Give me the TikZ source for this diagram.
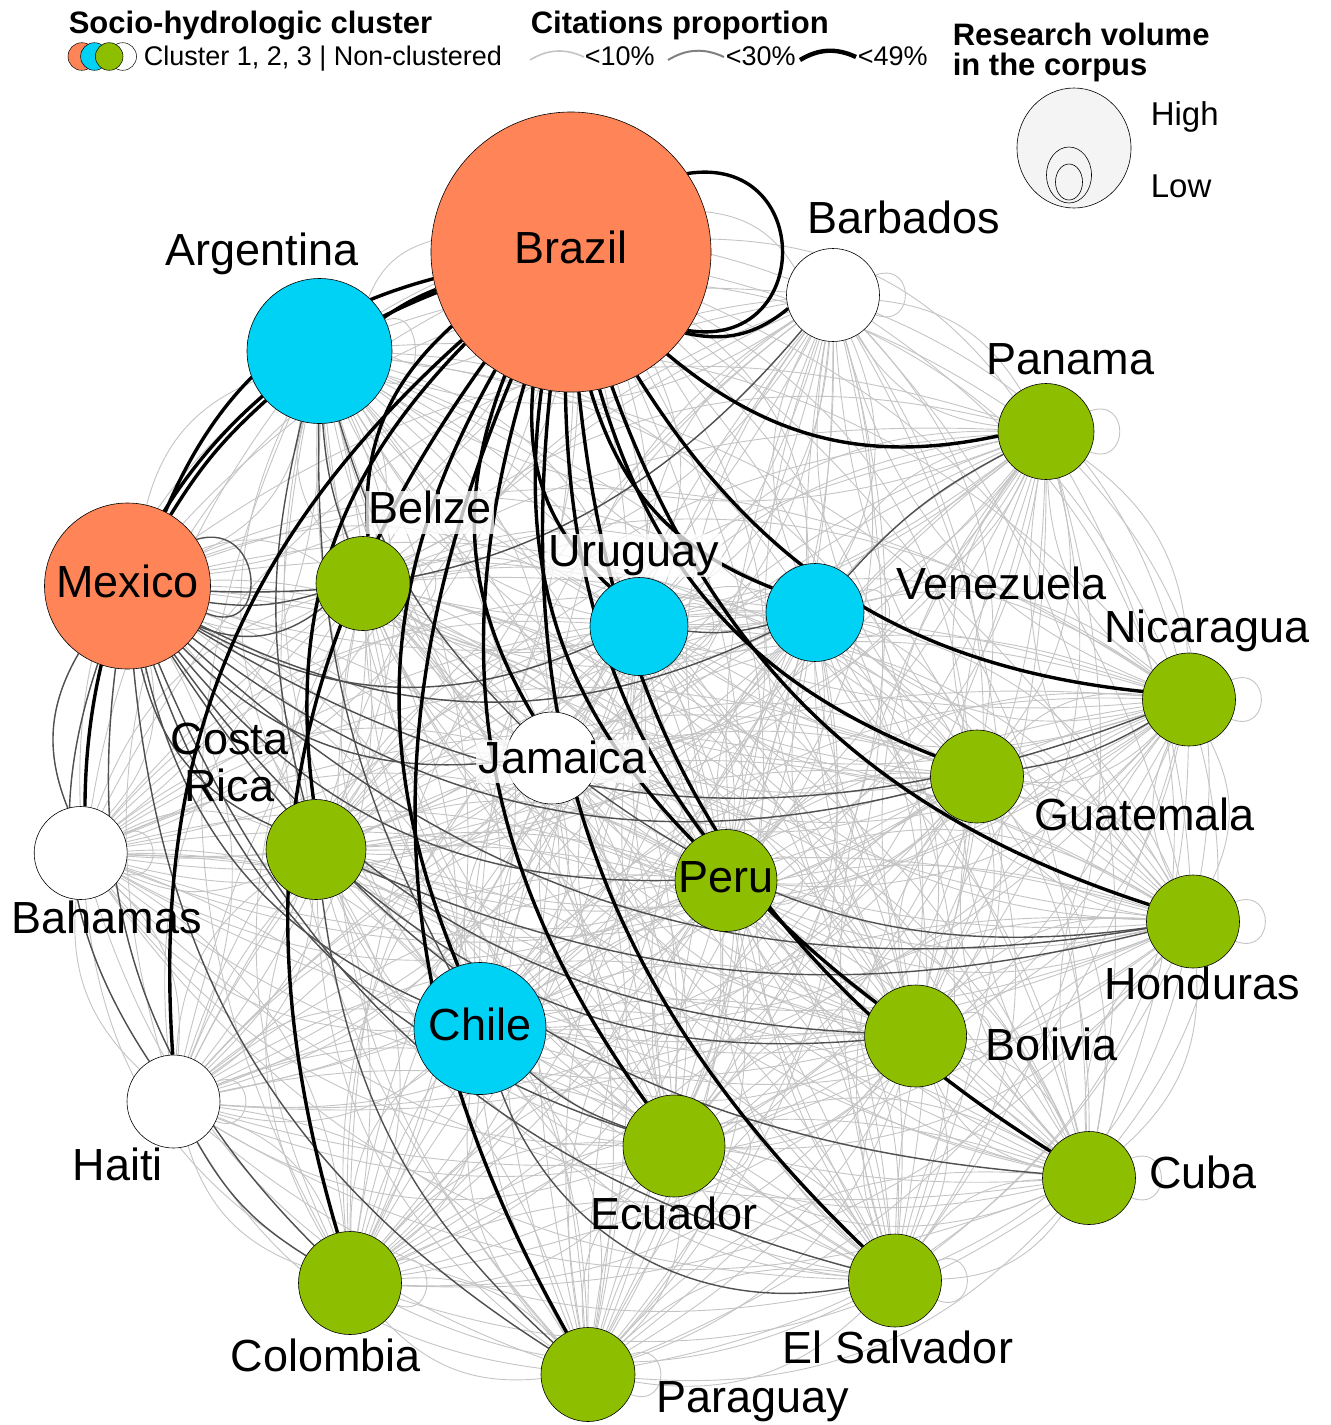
\documentclass[tikz,border=0pt]{standalone}
\usepackage{fontspec}
\setmainfont{Liberation Sans}
\usetikzlibrary{positioning}
\definecolor{grporange}{HTML}{FF8559}
\definecolor{grpblue}{HTML}{00D2F5}
\definecolor{grpgreen}{HTML}{8DBF00}
\definecolor{linklight}{HTML}{C4C4C4}
\definecolor{linkdark}{HTML}{505050}
\definecolor{keyfill}{HTML}{F4F4F4}
\pgfdeclarelayer{links}
\pgfsetlayers{links,main}
\newcommand{\allcountries}{bra,arg,mex,bar,pan,bel,uru,ven,nic,jam,gua,cos,bah,per,hon,chi,bol,hai,ecu,cub,col,els,par}
\tikzset{%
    country/.style = {circle, draw=black, line width=0.15pt, inner sep=0pt,
        minimum size=#1, font=\fontsize{11.25}{11.75}\selectfont,
        text height=7.25pt, text depth=1.5pt},
    grpone/.style = {fill=grporange},
    grptwo/.style = {fill=grpblue},
    grpthree/.style = {fill=grpgreen},
    grpnone/.style = {fill=white},
    cname/.style = {font=\fontsize{11.25}{11.75}\selectfont, inner sep=0pt,
        text height=8.25pt, text depth=2.5pt},
    cnamebg/.style = {cname, fill=white, fill opacity=0.75, text opacity=1,
        inner xsep=0.75pt},
    cnametwo/.style = {font=\fontsize{11.25}{11.75}\selectfont, inner sep=0pt,
        align=center},
    thinlink/.style = {draw=linklight, line width=0.225pt},
    midlink/.style = {draw=linkdark, line width=0.35pt},
    heavylink/.style = {draw=black, line width=0.85pt},
    keytitle/.style = {font=\bfseries\fontsize{7.75}{7.5}\selectfont, inner sep=0pt},
    keytext/.style = {font=\fontsize{6.75}{7.25}\selectfont, inner sep=0pt},
    keydot/.style = {circle, draw=black, line width=0.125pt, inner sep=0pt,
        minimum size=6.9pt},
    sizering/.style = {draw=black, line width=0.15pt, fill=keyfill},
}

\begin{document}
\begin{tikzpicture}[x=0.25pt, y=-0.25pt]
    \useasboundingbox (0,0) rectangle (1330,1425);
    % countries
    \node [country=70pt, grpone] (bra) at (571,252) {Brazil};
    \node [country=36.25pt, grptwo] (arg) at (319.5,351) {};
    \node [country=41.5pt, grpone] (mex) at (127.5,586) {Mexico};
    \node [country=23.25pt, grpnone] (bar) at (833,295) {};
    \node [country=24pt, grpthree] (pan) at (1046,431.5) {};
    \node [country=23.5pt, grpthree] (bel) at (363,583.5) {};
    \node [country=24.5pt, grptwo] (uru) at (639,626.5) {};
    \node [country=24.5pt, grptwo] (ven) at (815,612.5) {};
    \node [country=23.25pt, grpthree] (nic) at (1189,699.5) {};
    \node [country=23pt, grpnone] (jam) at (552,758) {};
    \node [country=23.25pt, grpthree] (gua) at (977,776.5) {};
    \node [country=25pt, grpthree] (cos) at (316,849.5) {};
    \node [country=23.25pt, grpnone] (bah) at (80.7,853) {};
    \node [country=25.5pt, grpthree] (per) at (726,880.5) {Peru};
    \node [country=23.25pt, grpthree] (hon) at (1193,921.5) {};
    \node [country=33pt, grptwo] (chi) at (480,1028.5) {Chile};
    \node [country=25.5pt, grpthree] (bol) at (915.6,1036) {};
    \node [country=23.25pt, grpnone] (hai) at (173.5,1101.5) {};
    \node [country=25.5pt, grpthree] (ecu) at (674,1146) {};
    \node [country=23.25pt, grpthree] (cub) at (1089,1178) {};
    \node [country=25.75pt, grpthree] (col) at (350,1283) {};
    \node [country=23.25pt, grpthree] (els) at (895,1280.5) {};
    \node [country=23.5pt, grpthree] (par) at (588,1374.5) {};

    % country names
    \node [cname, above=0.375pt of arg, xshift=-14.375pt] (arg-t) {Argentina};
    \node [cname, above=0.875pt of bar, xshift=17.75pt] (bar-t) {Barbados};
    \node [cname, above=-0.625pt of pan, xshift=6.125pt] (pan-t) {Panama};
    \node [cnamebg, above=0.375pt of bel, xshift=16.75pt] (bel-t) {Belize};
    \node [cnamebg, above=-0.125pt of uru, xshift=-1.25pt] (uru-t) {Uruguay};
    \node [cname, right=7.75pt of ven, yshift=6.25pt] (ven-t) {Venezuela};
    \node [cname, above=-0.25pt of nic, xshift=4.5pt] (nic-t) {Nicaragua};
    \node [cnamebg, xshift=2.625pt, yshift=-0.875pt] (jam-t) at (jam) {Jamaica};
    \node [cname, right=2.5pt of gua, yshift=-10.625pt] (gua-t) {Guatemala};
    \node [cnametwo, above=-1pt of cos, xshift=-21.625pt] (cos-t) {Costa\\Rica};
    \node [cname, below=0pt of bah, xshift=6.5pt] (bah-t) {Bahamas};
    \node [cname, below=-0.625pt of hon, xshift=2.25pt] (hon-t) {Honduras};
    \node [cname, right=4.375pt of bol, yshift=-3.125pt] (bol-t) {Bolivia};
    \node [cname, below=-0.5pt of hai, xshift=-13.875pt] (hai-t) {Haiti};
    \node [cname, right=3.125pt of cub, yshift=0.375pt] (cub-t) {Cuba};
    \node [cname, below=-0.5pt of ecu] (ecu-t) {Ecuador};
    \node [cname, below=0.75pt of col, xshift=-6pt] (col-t) {Colombia};
    \node [cname, below=0.5pt of els, xshift=0.75pt] (els-t) {El Salvador};
    \node [cname, right=5pt of par, yshift=-6.5pt] (par-t) {Paraguay};

    % citation links
    \begin{pgfonlayer}{links}
    \foreach \src [count=\i] in \allcountries {
        \foreach \dst [count=\j] in \allcountries {
            \ifnum\j>\i
                \draw [thinlink] (\src) to[bend left=26] (\dst);
                \draw [thinlink] (\src) to[bend right=26] (\dst);
            \fi
        }
    }
    \foreach \n in {arg,bar,pan,bel,uru,ven,nic,jam,gua,cos,bah,per,hon,chi,bol,hai,ecu,cub,col,els,par}
        \draw [thinlink] (\n.25) .. controls +(40,-15) and +(40,15) .. (\n.-25);

    \foreach \dst in {uru,ven,jam,per,gua,hon,nic,bol,cos,chi,ecu,col,hai,bah,par,bar,els,cub}
        \draw [midlink] (mex) to[bend right=26] (\dst);
    \draw [midlink] (mex) to[bend right=12] (bel);
    \draw [midlink] (mex) to[bend right=30] (bel);
    \draw [midlink] (mex.34) .. controls +(68,-20) and +(64,27) .. (mex.-19);
    \foreach \dst in {cos,jam,chi}
        \draw [midlink] (arg) to[bend right=14] (\dst);
    \draw [midlink] (arg) to[bend right=8] (bel);
    \draw [midlink] (pan) to[bend right=10] (ven);
    \draw [midlink] (uru) to[bend right=10] (ven);
    \draw [midlink] (gua) to[bend right=10] (nic);
    \draw [midlink] (cos) to[bend right=22] (bol);
    \draw [midlink] (cos) to[bend right=18] (hon);
    \draw [midlink] (cos) to[bend right=20] (par);
    \draw [midlink] (jam) to[bend right=22] (hon);
    \draw [midlink] (chi) to[bend right=10] (ecu);
    \draw [midlink] (chi) to[bend right=40] (els);
    \draw [midlink] (hai) to[bend right=14] (col);

    \foreach \dst in {mex,bar,pan,bel,uru,ven,nic,jam,gua,cos,per,hon,chi,bol,hai,ecu,cub,col,els,par}
        \draw [heavylink] (bra) to[bend right=26] (\dst);
    \draw [heavylink] (bra) to[bend right=6] (arg);
    \draw [heavylink] (bra) to[bend right=34] (bah);
    \draw [heavylink] (arg) to[bend right=8] (mex);
    \draw [heavylink] (bra.34) .. controls +(127,-20) and +(127,20) .. (bra.-34);
    \end{pgfonlayer}

    % legend: clusters
    \node [keytitle, anchor=base west] (key-cl) at (68,33) {Socio-hydrologic cluster};
    \node [keydot, grpone] (dot-a) at (81.8,56.5) {};
    \node [keydot, grptwo] (dot-b) at (94.4,56.5) {};
    \node [keydot, grpnone] (dot-n) at (122.7,56.5) {};
    \node [keydot, grpthree] (dot-c) at (109.2,56.5) {};
    \node [keytext, anchor=base west] (key-cl-t) at (143,65) {Cluster 1, 2, 3 | Non-clustered};

    % legend: citations
    \node [keytitle, anchor=base west] (key-ci) at (530,33) {Citations proportion};
    \coordinate (lo-a) at (530,60);
    \coordinate (lo-b) at (584,57);
    \coordinate (md-a) at (668,60);
    \coordinate (md-b) at (724,57);
    \coordinate (hi-a) at (800,60);
    \coordinate (hi-b) at (856,57);
    \draw [thinlink, line width=0.4pt] (lo-a) to[bend left=28] (lo-b);
    \draw [midlink, draw=gray, line width=0.5pt] (md-a) to[bend left=28] (md-b);
    \draw [heavylink, line width=1.1pt] (hi-a) to[bend left=28] (hi-b);
    \node [keytext, anchor=base west] (lo-t) at (584,65) {<10\%};
    \node [keytext, anchor=base west] (md-t) at (725,65) {<30\%};
    \node [keytext, anchor=base west] (hi-t) at (857,65) {<49\%};

    % legend: research volume
    \node [keytitle, align=left, anchor=north west] (key-rv) at (952,22.5) {Research volume\\in the corpus};
    \draw [sizering] (1074,148) ellipse [x radius=57, y radius=60];
    \draw [sizering] (1069,175) ellipse [x radius=22.5, y radius=28];
    \draw [sizering] (1069,182) ellipse [x radius=13.5, y radius=18];
    \node [keytext, font=\fontsize{8.25}{8.75}\selectfont, anchor=base west] (hi-v) at (1150,125) {High};
    \node [keytext, font=\fontsize{8.25}{8.75}\selectfont, anchor=base west] (lo-v) at (1150,197) {Low};
\end{tikzpicture}
\end{document}
